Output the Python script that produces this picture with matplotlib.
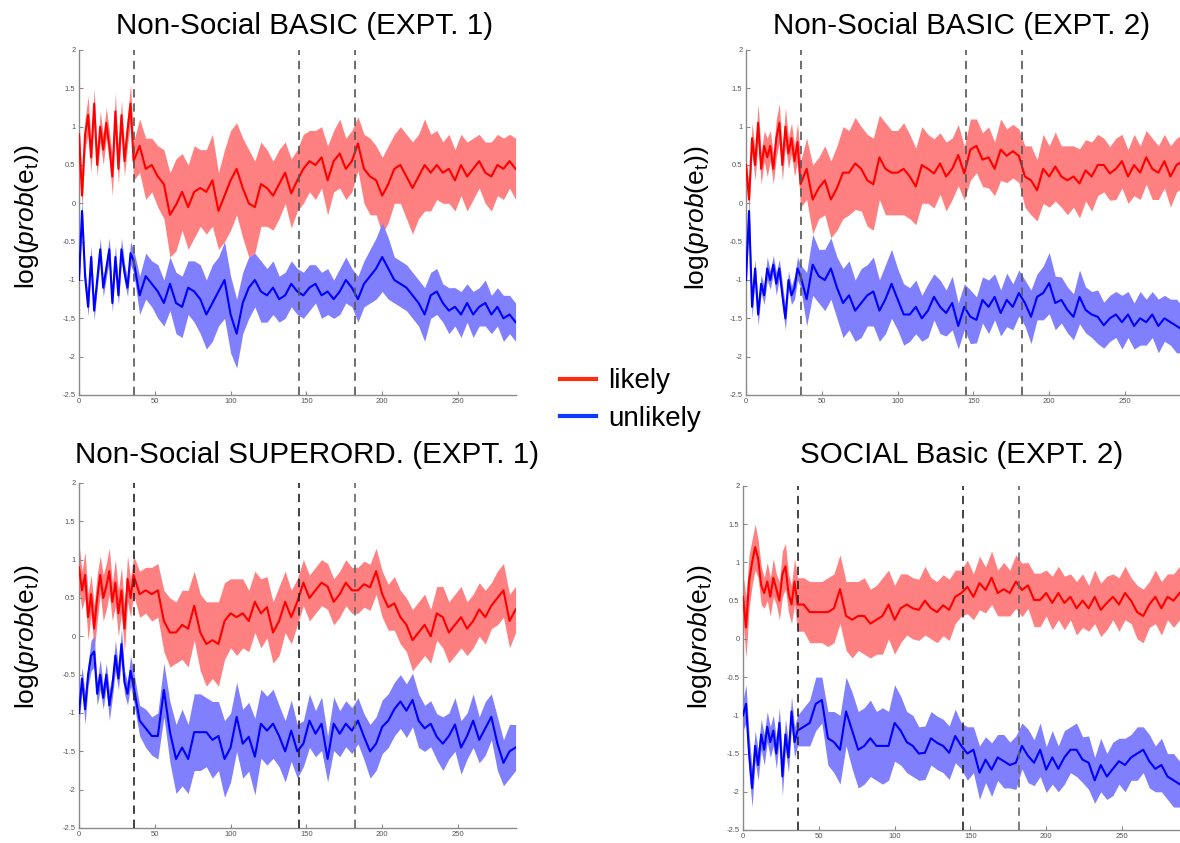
import matplotlib
matplotlib.use("Agg")
import matplotlib.pyplot as plt
from matplotlib.lines import Line2D
import numpy as np

plt.rcParams['font.family'] = ['Liberation Sans', 'DejaVu Sans']
plt.rcParams['mathtext.fontset'] = 'custom'
plt.rcParams['mathtext.rm'] = 'Liberation Sans'
plt.rcParams['mathtext.it'] = 'Liberation Sans:italic'

# ---------------- data ----------------
TRIALS = list(range(0, 37, 2)) + list(range(40, 289, 4))
BOUNDARIES = [36, 145, 182]
X_TICKS = [0, 50, 100, 150, 200, 250]
Y_TICKS = [-2.5, -2, -1.5, -1, -0.5, 0, 0.5, 1, 1.5, 2]
Y_TICK_LABELS = ['-2.5', '-2', '-1.5', '-1', '-0.5', '0', '0.5', '1', '1.5', '2']
TITLES = ['Non-Social BASIC (EXPT. 1)', 'Non-Social BASIC (EXPT. 2)',
          'Non-Social SUPERORD. (EXPT. 1)', 'SOCIAL Basic (EXPT. 2)']
LEGEND_LABELS = ['likely', 'unlikely']

TL_LIKELY = ([0.9, 0.1, 0.9, 1.15, 0.6, 1.3, 0.5, 1.0, 0.7, 1.05, 0.75, 0.35, 1.2, 0.45, 1.15, 0.55, 0.95, 1.3, 0.55]
             + [0.75, 0.45, 0.5, 0.35, 0.25]
             + [-0.15, -0.02, 0.15, -0.05, 0.15, 0.2, 0.15, 0.3, -0.1, 0.1, 0.3, 0.45]
             + [0.2, 0.0, -0.05, 0.25, 0.2, 0.1, 0.25, 0.4, 0.13]
             + [0.3, 0.45, 0.55, 0.5, 0.6, 0.3, 0.55, 0.65, 0.45, 0.55]
             + [0.78, 0.45, 0.35, 0.3, 0.1, 0.25, 0.45]
             + [0.5, 0.35, 0.2, 0.35, 0.5, 0.4, 0.5]
             + [0.4, 0.45, 0.3, 0.5, 0.35, 0.45, 0.55, 0.4, 0.35, 0.5, 0.45, 0.55, 0.45])
TL_LIKELY_SE = ([0.2, 0.15, 0.2, 0.25, 0.2, 0.2, 0.15, 0.2, 0.2, 0.2, 0.2, 0.25, 0.25, 0.2, 0.2, 0.2, 0.2, 0.25, 0.25]
                + [0.35, 0.4, 0.35, 0.4, 0.45]
                + [0.55, 0.6, 0.5, 0.55, 0.6, 0.5, 0.55, 0.6, 0.5, 0.6, 0.65, 0.6]
                + [0.65, 0.7, 0.6, 0.55, 0.5, 0.45, 0.45, 0.4, 0.45]
                + [0.4, 0.45, 0.4, 0.45, 0.4, 0.45, 0.4, 0.45, 0.4, 0.4]
                + [0.35, 0.45, 0.5, 0.45, 0.5, 0.5, 0.45]
                + [0.5, 0.55, 0.6, 0.55, 0.6, 0.5, 0.45]
                + [0.4, 0.45, 0.4, 0.4, 0.45, 0.4, 0.35, 0.4, 0.45, 0.4, 0.4, 0.35, 0.4])
TL_UNLIKELY = ([-1.0, -0.1, -0.95, -1.35, -0.7, -1.4, -1.0, -0.6, -1.1, -0.85, -0.6, -1.3, -0.7, -1.2, -0.6, -0.9, -1.1, -0.65, -0.75]
               + [-1.2, -0.95, -1.05, -1.15, -1.3]
               + [-1.05, -1.3, -1.35, -1.1, -1.15, -1.25, -1.45, -1.3, -1.15, -1.0, -1.45, -1.7]
               + [-1.3, -1.1, -1.0, -1.15, -1.2, -1.1, -1.25, -1.2, -1.05]
               + [-1.15, -1.2, -1.1, -1.05, -1.2, -1.15, -1.25, -1.15, -1.0, -1.1]
               + [-1.25, -1.05, -0.95, -0.85, -0.7, -0.85, -1.0]
               + [-1.05, -1.1, -1.2, -1.3, -1.45, -1.2, -1.15]
               + [-1.3, -1.4, -1.35, -1.45, -1.3, -1.45, -1.35, -1.3, -1.45, -1.35, -1.5, -1.45, -1.55])
TL_UNLIKELY_SE = ([0.1, 0.15, 0.12, 0.12, 0.15, 0.12, 0.12, 0.15, 0.12, 0.12, 0.15, 0.12, 0.15, 0.12, 0.15, 0.12, 0.12, 0.15, 0.15]
                  + [0.25, 0.3, 0.3, 0.35, 0.3]
                  + [0.35, 0.4, 0.4, 0.35, 0.4, 0.45, 0.45, 0.5, 0.45, 0.5, 0.5, 0.45]
                  + [0.4, 0.4, 0.35, 0.4, 0.35, 0.35, 0.3, 0.3, 0.3]
                  + [0.3, 0.3, 0.3, 0.25, 0.3, 0.3, 0.25, 0.3, 0.3, 0.25]
                  + [0.3, 0.3, 0.35, 0.4, 0.45, 0.4, 0.3]
                  + [0.3, 0.3, 0.3, 0.3, 0.35, 0.3, 0.3]
                  + [0.25, 0.3, 0.25, 0.3, 0.25, 0.3, 0.25, 0.3, 0.25, 0.25, 0.3, 0.25, 0.25])

TR_LIKELY = ([0.5, 0.05, 0.85, 0.5, 1.05, 0.45, 0.75, 0.6, 0.75, 0.45, 0.85, 1.05, 0.5, 1.0, 0.65, 0.85, 0.55, 0.8, 0.25]
             + [0.45, 0.05, 0.2, 0.3, 0.05]
             + [0.2, 0.4, 0.4, 0.52, 0.45, 0.3, 0.25, 0.6, 0.45, 0.4, 0.4, 0.45]
             + [0.35, 0.22, 0.5, 0.45, 0.39, 0.52, 0.35, 0.45, 0.63]
             + [0.39, 0.7, 0.75, 0.57, 0.6, 0.45, 0.7, 0.62, 0.68, 0.62]
             + [0.35, 0.3, 0.17, 0.45, 0.35, 0.48, 0.35]
             + [0.3, 0.35, 0.26, 0.43, 0.35, 0.5, 0.5]
             + [0.39, 0.45, 0.55, 0.35, 0.5, 0.4, 0.6, 0.45, 0.4, 0.55, 0.35, 0.5, 0.55])
TR_LIKELY_SE = ([0.1, 0.15, 0.2, 0.2, 0.25, 0.2, 0.2, 0.25, 0.2, 0.2, 0.25, 0.25, 0.2, 0.25, 0.2, 0.2, 0.2, 0.25, 0.3]
                + [0.4, 0.45, 0.4, 0.45, 0.5]
                + [0.55, 0.6, 0.55, 0.6, 0.55, 0.6, 0.6, 0.55, 0.6, 0.55, 0.55, 0.6]
                + [0.55, 0.5, 0.5, 0.45, 0.45, 0.4, 0.45, 0.4, 0.4]
                + [0.35, 0.4, 0.35, 0.35, 0.4, 0.35, 0.4, 0.35, 0.35, 0.35]
                + [0.4, 0.45, 0.4, 0.45, 0.4, 0.45, 0.4]
                + [0.45, 0.4, 0.45, 0.4, 0.45, 0.4, 0.35]
                + [0.35, 0.4, 0.35, 0.35, 0.4, 0.35, 0.35, 0.4, 0.35, 0.35, 0.4, 0.35, 0.35])
TR_UNLIKELY = ([-1.0, -0.1, -1.35, -0.85, -1.45, -1.05, -1.2, -0.85, -1.0, -0.8, -1.05, -0.85, -1.2, -1.5, -1.0, -1.2, -1.1, -0.85, -0.95]
               + [-1.25, -0.8, -0.95, -1.0, -0.85]
               + [-1.1, -1.3, -1.2, -1.4, -1.3, -1.2, -1.15, -1.4, -1.25, -1.05, -1.25, -1.45]
               + [-1.45, -1.35, -1.5, -1.4, -1.22, -1.35, -1.43, -1.3, -1.6]
               + [-1.35, -1.48, -1.52, -1.26, -1.35, -1.22, -1.43, -1.26, -1.35, -1.17]
               + [-1.3, -1.48, -1.22, -1.17, -1.04, -1.3, -1.26]
               + [-1.39, -1.48, -1.22, -1.39, -1.45, -1.48, -1.59]
               + [-1.5, -1.45, -1.55, -1.45, -1.6, -1.5, -1.55, -1.45, -1.6, -1.5, -1.55, -1.6, -1.65])
TR_UNLIKELY_SE = ([0.1, 0.15, 0.15, 0.12, 0.15, 0.12, 0.12, 0.15, 0.12, 0.12, 0.15, 0.12, 0.15, 0.15, 0.12, 0.12, 0.15, 0.15, 0.15]
                  + [0.35, 0.4, 0.35, 0.4, 0.4]
                  + [0.4, 0.45, 0.45, 0.4, 0.45, 0.4, 0.45, 0.4, 0.45, 0.45, 0.4, 0.4]
                  + [0.35, 0.35, 0.3, 0.35, 0.3, 0.35, 0.3, 0.35, 0.3]
                  + [0.3, 0.35, 0.3, 0.3, 0.35, 0.3, 0.3, 0.35, 0.3, 0.3]
                  + [0.3, 0.35, 0.3, 0.35, 0.4, 0.35, 0.3]
                  + [0.3, 0.3, 0.35, 0.3, 0.3, 0.35, 0.3]
                  + [0.3, 0.3, 0.35, 0.3, 0.3, 0.35, 0.3, 0.3, 0.35, 0.3, 0.3, 0.35, 0.3])

BL_LIKELY = ([0.9, 0.6, 0.8, 0.25, 0.55, 0.1, 0.5, 0.8, 0.5, 0.65, 0.85, 0.45, 0.7, 0.3, 0.6, 0.1, 0.75, 0.5, 0.8]
             + [0.55, 0.6, 0.55, 0.6, 0.2]
             + [0.05, 0.05, 0.15, 0.1, 0.4, 0.05, -0.1, -0.05, -0.1, 0.2, 0.3, 0.25]
             + [0.3, 0.2, 0.45, 0.3, 0.38, 0.05, 0.2, 0.45, 0.25]
             + [0.45, 0.7, 0.5, 0.6, 0.7, 0.65, 0.45, 0.55, 0.7, 0.6]
             + [0.6, 0.68, 0.64, 0.85, 0.55, 0.38, 0.43]
             + [0.25, 0.15, -0.05, 0.05, 0.15, 0.0, 0.3]
             + [0.25, 0.05, 0.15, 0.25, 0.1, 0.2, 0.35, 0.25, 0.4, 0.5, 0.6, 0.2, 0.35])
BL_LIKELY_SE = ([0.3, 0.25, 0.3, 0.3, 0.25, 0.3, 0.3, 0.25, 0.3, 0.3, 0.3, 0.25, 0.3, 0.3, 0.3, 0.3, 0.3, 0.25, 0.25]
                + [0.3, 0.3, 0.35, 0.35, 0.4]
                + [0.45, 0.4, 0.45, 0.5, 0.45, 0.5, 0.55, 0.5, 0.55, 0.5, 0.45, 0.5]
                + [0.45, 0.4, 0.4, 0.45, 0.4, 0.4, 0.45, 0.4, 0.35]
                + [0.3, 0.3, 0.3, 0.3, 0.3, 0.3, 0.3, 0.3, 0.3, 0.3]
                + [0.3, 0.3, 0.3, 0.3, 0.3, 0.3, 0.35]
                + [0.35, 0.35, 0.4, 0.4, 0.4, 0.35, 0.35]
                + [0.4, 0.4, 0.4, 0.4, 0.35, 0.35, 0.35, 0.35, 0.3, 0.35, 0.35, 0.35, 0.3])
BL_UNLIKELY = ([-1.0, -0.55, -0.95, -0.5, -0.25, -0.2, -0.75, -0.5, -0.8, -0.5, -0.9, -0.65, -0.25, -0.55, -0.1, -0.6, -0.75, -0.45, -0.65]
               + [-1.1, -1.2, -1.3, -1.3, -0.7]
               + [-1.25, -1.6, -1.45, -1.6, -1.25, -1.25, -1.25, -1.35, -1.3, -1.6, -1.45, -1.05]
               + [-1.4, -1.31, -1.57, -1.14, -1.23, -1.14, -1.3, -1.5, -1.23]
               + [-1.5, -1.4, -1.1, -1.27, -1.14, -1.6, -1.14, -1.27, -1.14, -1.23]
               + [-1.1, -1.31, -1.5, -1.4, -1.18, -1.1, -0.95]
               + [-0.85, -0.97, -0.83, -1.1, -1.2, -1.14, -1.31]
               + [-1.4, -1.3, -1.15, -1.45, -1.3, -1.1, -1.35, -1.2, -1.05, -1.4, -1.65, -1.5, -1.45])
BL_UNLIKELY_SE = ([0.15, 0.15, 0.2, 0.15, 0.2, 0.2, 0.15, 0.2, 0.15, 0.15, 0.2, 0.15, 0.2, 0.15, 0.2, 0.15, 0.15, 0.2, 0.2]
                  + [0.2, 0.25, 0.25, 0.3, 0.35]
                  + [0.4, 0.45, 0.5, 0.45, 0.5, 0.5, 0.45, 0.5, 0.45, 0.5, 0.45, 0.45]
                  + [0.45, 0.45, 0.5, 0.45, 0.45, 0.45, 0.4, 0.4, 0.4]
                  + [0.35, 0.3, 0.35, 0.3, 0.35, 0.3, 0.35, 0.3, 0.3, 0.3]
                  + [0.3, 0.3, 0.35, 0.35, 0.35, 0.35, 0.35]
                  + [0.35, 0.35, 0.35, 0.35, 0.3, 0.3, 0.3]
                  + [0.35, 0.3, 0.35, 0.35, 0.3, 0.35, 0.3, 0.35, 0.3, 0.35, 0.3, 0.35, 0.3])

BR_LIKELY = ([0.55, 0.15, 0.75, 1.0, 1.2, 1.05, 0.7, 0.6, 0.75, 0.55, 0.8, 0.65, 0.5, 0.85, 0.95, 0.6, 0.45, 0.75, 0.45]
             + [0.45, 0.35, 0.35, 0.35, 0.35]
             + [0.4, 0.65, 0.3, 0.25, 0.3, 0.3, 0.2, 0.25, 0.3, 0.45, 0.25, 0.4]
             + [0.45, 0.4, 0.38, 0.5, 0.4, 0.35, 0.44, 0.38, 0.55]
             + [0.6, 0.68, 0.55, 0.73, 0.64, 0.8, 0.6, 0.65, 0.6, 0.75]
             + [0.64, 0.7, 0.51, 0.51, 0.6, 0.47, 0.6]
             + [0.47, 0.55, 0.4, 0.5, 0.4, 0.55, 0.38]
             + [0.47, 0.55, 0.45, 0.6, 0.5, 0.35, 0.3, 0.45, 0.55, 0.4, 0.55, 0.5, 0.6])
BR_LIKELY_SE = ([0.3, 0.4, 0.35, 0.3, 0.3, 0.25, 0.25, 0.2, 0.25, 0.25, 0.25, 0.2, 0.25, 0.3, 0.3, 0.25, 0.25, 0.3, 0.35]
                + [0.35, 0.4, 0.4, 0.4, 0.45]
                + [0.45, 0.45, 0.45, 0.5, 0.45, 0.5, 0.45, 0.45, 0.5, 0.45, 0.45, 0.45]
                + [0.4, 0.4, 0.4, 0.45, 0.4, 0.4, 0.4, 0.4, 0.35]
                + [0.3, 0.35, 0.3, 0.35, 0.3, 0.35, 0.3, 0.35, 0.3, 0.35]
                + [0.35, 0.3, 0.35, 0.35, 0.3, 0.35, 0.35]
                + [0.35, 0.3, 0.35, 0.35, 0.3, 0.35, 0.35]
                + [0.35, 0.3, 0.35, 0.35, 0.3, 0.35, 0.35, 0.3, 0.35, 0.35, 0.3, 0.35, 0.35])
BR_UNLIKELY = ([-1.0, -0.85, -1.5, -1.95, -1.4, -1.65, -1.25, -1.45, -1.15, -1.35, -1.2, -1.5, -1.1, -1.8, -1.25, -1.55, -0.95, -1.35, -1.2]
               + [-1.15, -1.1, -0.85, -0.8, -1.3]
               + [-1.35, -1.45, -0.95, -1.2, -1.45, -1.4, -1.3, -1.4, -1.4, -1.4, -1.1, -1.2]
               + [-1.35, -1.4, -1.5, -1.49, -1.3, -1.36, -1.4, -1.49, -1.27]
               + [-1.4, -1.5, -1.45, -1.75, -1.58, -1.71, -1.55, -1.6, -1.65, -1.62]
               + [-1.4, -1.53, -1.62, -1.45, -1.71, -1.55, -1.7]
               + [-1.55, -1.45, -1.45, -1.58, -1.62, -1.85, -1.65]
               + [-1.8, -1.7, -1.6, -1.65, -1.55, -1.5, -1.45, -1.6, -1.7, -1.65, -1.8, -1.85, -1.9])
BR_UNLIKELY_SE = ([0.2, 0.25, 0.25, 0.25, 0.2, 0.2, 0.2, 0.2, 0.2, 0.2, 0.2, 0.2, 0.2, 0.25, 0.2, 0.2, 0.2, 0.2, 0.2]
                  + [0.25, 0.3, 0.35, 0.3, 0.35]
                  + [0.4, 0.45, 0.45, 0.5, 0.5, 0.5, 0.5, 0.45, 0.5, 0.45, 0.5, 0.45]
                  + [0.4, 0.4, 0.35, 0.35, 0.35, 0.35, 0.35, 0.35, 0.35]
                  + [0.3, 0.35, 0.3, 0.35, 0.3, 0.35, 0.3, 0.35, 0.3, 0.35]
                  + [0.3, 0.35, 0.3, 0.35, 0.3, 0.35, 0.3]
                  + [0.35, 0.3, 0.35, 0.3, 0.35, 0.3, 0.35]
                  + [0.3, 0.35, 0.3, 0.35, 0.3, 0.35, 0.3, 0.35, 0.3, 0.35, 0.3, 0.35, 0.3])

PANELS = [
    (TL_LIKELY, TL_LIKELY_SE, TL_UNLIKELY, TL_UNLIKELY_SE),
    (TR_LIKELY, TR_LIKELY_SE, TR_UNLIKELY, TR_UNLIKELY_SE),
    (BL_LIKELY, BL_LIKELY_SE, BL_UNLIKELY, BL_UNLIKELY_SE),
    (BR_LIKELY, BR_LIKELY_SE, BR_UNLIKELY, BR_UNLIKELY_SE),
]
for i, p in enumerate(PANELS):
    for j, s in enumerate(p):
        assert len(s) == len(TRIALS), (i, j, len(s), len(TRIALS))

# ---------------- layout ----------------
W, H = 1180, 843
fig = plt.figure(figsize=(W / 100, H / 100), dpi=100)
fig.patch.set_facecolor('white')

AX_W = 436.6
# (left, top, bottom) in pixels
AX_BOX = [(79, 50, 395), (746, 50, 395), (79, 483, 828), (743, 486, 830)]
TITLE_POS = [(305, 26), (962, 26), (307, 455), (962, 455)]
YLAB_POS = [(27, 217), (697, 218), (27, 637), (700, 637)]
DASH_COLORS = [['#555555', '#555555', '#555555'], ['#555555', '#555555', '#555555'],
               ['#222222', '#222222', '#666666'], ['#222222', '#222222', '#666666']]

RED, BLUE = '#ff0000', '#0000ff'
RED_BAND, BLUE_BAND = '#ff8080', '#8080ff'
AXIS_GRAY = '#8a8a8a'

x = np.array(TRIALS)
for k, (lik, lik_se, unl, unl_se) in enumerate(PANELS):
    l, t, b = AX_BOX[k]
    ax = fig.add_axes([l / W, 1 - b / H, AX_W / W, (b - t) / H])
    lik, lik_se = np.array(lik), np.array(lik_se)
    unl, unl_se = np.array(unl), np.array(unl_se)
    ax.fill_between(x, lik - lik_se, lik + lik_se, color=RED_BAND, lw=0, zorder=1)
    ax.fill_between(x, unl - unl_se, unl + unl_se, color=BLUE_BAND, lw=0, zorder=1)
    ax.plot(x, lik, color=RED, lw=1.5, zorder=3)
    ax.plot(x, unl, color=BLUE, lw=1.5, zorder=3)
    for bx, c in zip(BOUNDARIES, DASH_COLORS[k]):
        ax.axvline(bx, color=c, lw=1.2, ls=(0, (5, 3.5)), zorder=4)
    ax.set_xlim(0, 288)
    ax.set_ylim(-2.5, 2)
    ax.set_xticks(X_TICKS)
    ax.set_yticks(Y_TICKS)
    ax.set_yticklabels(Y_TICK_LABELS)
    for side in ['top', 'right']:
        ax.spines[side].set_visible(False)
    for side in ['left', 'bottom']:
        ax.spines[side].set_color(AXIS_GRAY)
        ax.spines[side].set_linewidth(1.0)
    ax.tick_params(direction='in', length=3, width=0.8, color=AXIS_GRAY,
                   labelsize=5.5, labelcolor='#555555', pad=2.5)
    ax.set_facecolor('none')

    tx, ty = TITLE_POS[k]
    fig.text(tx / W, 1 - ty / H, TITLES[k], fontsize=21.3, ha='center', va='center')
    yx, yy = YLAB_POS[k]
    fig.text(yx / W, 1 - yy / H, r'log($\mathit{prob}$(e$_\mathregular{t}$))',
             fontsize=19, rotation=90, ha='center', va='center')

handles = [Line2D([], [], color='#ff2d10', lw=3),
           Line2D([], [], color='#0d3bff', lw=3)]
fig.legend(handles, LEGEND_LABELS, loc='center left', frameon=False, fontsize=20,
           bbox_to_anchor=(560 / W, 1 - 400 / H), handlelength=1.3,
           handletextpad=0.45, labelspacing=0.4, borderpad=0, borderaxespad=0)

fig.savefig('out.png', dpi=100, facecolor='white')
